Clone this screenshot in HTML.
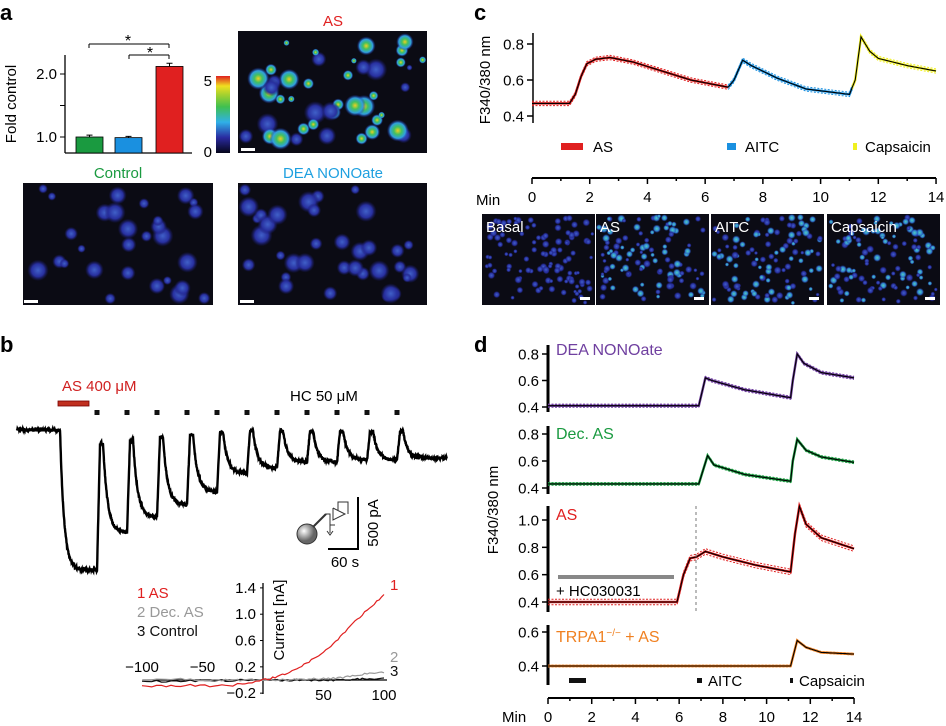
<!DOCTYPE html>
<html><head><meta charset="utf-8"><style>
html,body{margin:0;padding:0;background:#fff;}
svg{display:block;font-family:"Liberation Sans",Arial,sans-serif;}
</style></head><body>
<svg id="fig" width="946" height="726" viewBox="0 0 946 726" xmlns="http://www.w3.org/2000/svg">
<defs>
<linearGradient id="cbar" x1="0" y1="1" x2="0" y2="0">
<stop offset="0" stop-color="#05051a"/><stop offset="0.2" stop-color="#2a2aa0"/><stop offset="0.4" stop-color="#30b0e8"/><stop offset="0.6" stop-color="#40c050"/><stop offset="0.75" stop-color="#a0d030"/><stop offset="0.87" stop-color="#f0e020"/><stop offset="1" stop-color="#e02020"/>
</linearGradient>
<radialGradient id="cellA"><stop offset="0" stop-color="#f0d020"/><stop offset="0.35" stop-color="#40c060"/><stop offset="0.7" stop-color="#30a0e0"/><stop offset="1" stop-color="#2020a0" stop-opacity="0"/></radialGradient>
<radialGradient id="cellB"><stop offset="0" stop-color="#4060c8"/><stop offset="0.6" stop-color="#2830a0"/><stop offset="1" stop-color="#1a1a70" stop-opacity="0"/></radialGradient>
<radialGradient id="cellC"><stop offset="0" stop-color="#50d0c0"/><stop offset="0.6" stop-color="#3080d0"/><stop offset="1" stop-color="#2030a0" stop-opacity="0.2"/></radialGradient>
<radialGradient id="ball" cx="0.35" cy="0.35"><stop offset="0" stop-color="#fff"/><stop offset="1" stop-color="#666"/></radialGradient>
</defs>

<text x="0" y="20" font-size="22" font-weight="bold">a</text>
<text x="0" y="352" font-size="22" font-weight="bold">b</text>
<text x="474" y="20" font-size="22" font-weight="bold">c</text>
<text x="474" y="352" font-size="22" font-weight="bold">d</text>

<g id="pa">
<line x1="65" y1="55" x2="65" y2="153" stroke="#000" stroke-width="1.3"/>
<line x1="65" y1="153" x2="192" y2="153" stroke="#000" stroke-width="1.3"/>
<text transform="translate(16,104) rotate(-90)" text-anchor="middle" font-size="15">Fold control</text>
<line x1="89" y1="44" x2="169" y2="44" stroke="#000"/>
<line x1="89" y1="44" x2="89" y2="48" stroke="#000"/><line x1="169" y1="44" x2="169" y2="48" stroke="#000"/>
<text x="128" y="46" text-anchor="middle" font-size="16">*</text>
<line x1="129" y1="55" x2="169" y2="55" stroke="#000"/>
<line x1="129" y1="55" x2="129" y2="59" stroke="#000"/><line x1="169" y1="55" x2="169" y2="59" stroke="#000"/>
<text x="150" y="58" text-anchor="middle" font-size="16">*</text>
</g>
<rect x="216" y="76" width="14" height="77" fill="url(#cbar)"/>
<text x="212" y="86" text-anchor="end" font-size="15">5</text>
<text x="212" y="157" text-anchor="end" font-size="15">0</text>
<text x="333" y="26" text-anchor="middle" font-size="15" fill="#e02020">AS</text>
<text x="118" y="178" text-anchor="middle" font-size="15" fill="#1a9a40">Control</text>
<text x="333" y="178" text-anchor="middle" font-size="15" fill="#1ea0e0">DEA NONOate</text>
<g id="imgs"></g>

<text x="62" y="391" font-size="15" fill="#d02020">AS 400 μM</text>
<rect x="58" y="401" width="31" height="5" fill="#c03020" stroke="#700" stroke-width="0.8"/>
<text x="290" y="401" font-size="15">HC 50 μM</text>
<g id="pb"></g>
<g>
<polyline points="328,549 358,549 358,497" fill="none" stroke="#000" stroke-width="2"/>
<text transform="translate(378,523) rotate(-90)" text-anchor="middle" font-size="15">500 pA</text>
<text x="345" y="567" text-anchor="middle" font-size="15">60 s</text>
</g>
<g>
<circle cx="307" cy="534" r="10" fill="url(#ball)" stroke="#333"/>
<line x1="313" y1="527" x2="326" y2="514" stroke="#333" stroke-width="2"/>
<polyline points="326,514 330,514 330,525 335,525" fill="none" stroke="#333"/>
<polyline points="333,508 333,520 345,514 333,508" fill="#fff" stroke="#333"/>
<polyline points="338,510 338,502 348,502 348,514" fill="none" stroke="#333"/>
<line x1="330" y1="525" x2="330" y2="533" stroke="#333"/>
<polyline points="327,531 330,535 333,531" fill="none" stroke="#333"/>
</g>
<g id="iv"></g>

<g id="pc"></g>
<text transform="translate(490,80) rotate(-90)" text-anchor="middle" font-size="15">F340/380 nm</text>
<rect x="561" y="143" width="22" height="7" fill="#e02020"/>
<text x="593" y="152" font-size="15">AS</text>
<rect x="727" y="143" width="9" height="7" fill="#1a90e0"/>
<text x="745" y="152" font-size="15">AITC</text>
<rect x="853" y="143" width="4" height="7" fill="#f0f020"/>
<text x="865" y="152" font-size="15">Capsaicin</text>
<text x="476" y="205" font-size="15">Min</text>

<g id="pd"></g>
<text transform="translate(498,510) rotate(-90)" text-anchor="middle" font-size="15">F340/380 nm</text>
<text x="556" y="355" font-size="16" fill="#7040a0">DEA NONOate</text>
<text x="556" y="439" font-size="16" fill="#1a9a40">Dec. AS</text>
<text x="556" y="520" font-size="16" fill="#e02020">AS</text>
<text x="556" y="642" font-size="16" fill="#f08020">TRPA1<tspan dy="-6" font-size="10">−/−</tspan><tspan dy="6"> + AS</tspan></text>
<rect x="558" y="575" width="116" height="4" fill="#888"/>
<text x="556" y="596" font-size="15">+ HC030031</text>
<line x1="696" y1="506" x2="696" y2="612" stroke="#777" stroke-dasharray="3,3"/>
<rect x="569" y="678" width="17" height="5" fill="#111"/>
<rect x="697" y="678" width="5" height="5" fill="#111"/>
<text x="708" y="686" font-size="15">AITC</text>
<rect x="790" y="678" width="3" height="5" fill="#111"/>
<text x="799" y="686" font-size="15">Capsaicin</text>
<text x="502" y="722" font-size="15">Min</text>
</svg>
<script>
const barCats = ['Control','DEA NONOate','AS'];
const barVals = [1.0, 0.99, 2.12];
const barErr = [0.03, 0.02, 0.05];
const barTicks = [1.0, 1.5, 2.0];
const barTickLabels = ['1.0', '', '2.0'];
const pulseTimes = [160,220,280,340,400,460,520,580,640,700,760];
const troughVals = [-1346,-990,-837,-721,-596,-413,-365,-308,-308,-288,-288];
const peakVals = [-125,-96,-67,-48,-19,-10,-10,-10,-10,-10,-10];
const endVal = -269;
const ivV = [-100,-80,-60,-40,-25,-15,0,10,20,30,40,50,60,70,80,90,100];
const ivAS = [-0.1,-0.09,-0.08,-0.09,-0.08,-0.05,0,0.04,0.1,0.2,0.3,0.42,0.58,0.78,0.96,1.12,1.3];
const ivDec = [0,0.01,0.01,0,0,0,0,0,0,0.01,0.02,0.02,0.03,0.05,0.08,0.1,0.11];
const ivCtl = [-0.02,-0.02,-0.01,-0.01,-0.01,0,0,0,0,0,0,0,0,0.01,0.01,0.02,0.03];
const ivXTicks = [-100,-50,50,100];
const ivYTicks = [1.4,1.0,0.6,0.2,-0.2];
const cT = [0,1.3,1.5,1.7,1.9,2.2,2.7,3.5,4.5,5.5,6.8,7.0,7.3,7.6,8.5,9.5,11.0,11.2,11.4,11.7,12,13,14];
const cV = [0.47,0.47,0.52,0.62,0.69,0.715,0.725,0.7,0.65,0.6,0.56,0.6,0.71,0.68,0.61,0.55,0.52,0.6,0.84,0.76,0.72,0.68,0.65];
const cYTicks = [0.4,0.6,0.8];
const timeTicks = [0,2,4,6,8,10,12,14];
const dDeaT = [0,6.9,7.2,7.5,9,11.1,11.2,11.4,11.7,12.5,14];
const dDeaV = [0.41,0.41,0.62,0.6,0.53,0.47,0.6,0.8,0.73,0.66,0.62];
const dDecT = [0,6.9,7.3,7.6,9,11.1,11.2,11.4,11.8,12.5,14];
const dDecV = [0.43,0.43,0.64,0.57,0.5,0.45,0.6,0.76,0.68,0.63,0.59];
const dAsT = [0,5.9,6.2,6.5,6.8,7.2,8,9.5,11.1,11.3,11.5,11.8,12.5,14];
const dAsV = [0.4,0.4,0.6,0.72,0.73,0.77,0.73,0.67,0.62,0.9,1.1,0.97,0.87,0.79];
const dKoT = [0,11.1,11.4,11.8,12.5,14];
const dKoV = [0.4,0.4,0.55,0.51,0.48,0.47];

const NS='http://www.w3.org/2000/svg';
function mk(tag, parent){const e=document.createElementNS(NS,tag);parent.appendChild(e);return e;}
function ptsStr(xs,ys){return xs.map((x,i)=>x.toFixed(1)+','+ys[i].toFixed(1)).join(' ');}

const pa=document.getElementById('pa');
const aY=v=>137-(v-1.0)*63;
const aX=[76,115,156];
const aCol=['#1a9a40','#1a90e0','#e02020'];
barTicks.forEach((t,i)=>{
 const l=mk('line',pa);l.setAttribute('x1',60);l.setAttribute('x2',65);l.setAttribute('y1',aY(t));l.setAttribute('y2',aY(t));l.setAttribute('stroke','#000');
 
 
 if(barTickLabels[i]){const tx=mk('text',pa);tx.setAttribute('x',57);tx.setAttribute('y',aY(t)+5);tx.setAttribute('text-anchor','end');tx.setAttribute('font-size','15');tx.textContent=barTickLabels[i];
 
 }
});
barCats.forEach((c,i)=>{
 const r=mk('rect',pa);r.setAttribute('x',aX[i]);r.setAttribute('width',27);r.setAttribute('y',aY(barVals[i]));r.setAttribute('height',153-aY(barVals[i]));r.setAttribute('fill',aCol[i]);r.setAttribute('stroke','#000');r.setAttribute('stroke-width','0.8');
 
 
 const e=mk('path',pa);const cx=aX[i]+13.5;e.setAttribute('d',`M${cx},${aY(barVals[i])} V${aY(barVals[i]+barErr[i])} M${cx-3},${aY(barVals[i]+barErr[i])} H${cx+3}`);e.setAttribute('stroke','#000');
 
 
});

const imgs=document.getElementById('imgs');
let seed=7;function rnd(){seed=(seed*16807)%2147483647;return seed/2147483647;}
function image(x,y,w,h,n,grad,rmin,rmax,name){
 const g=mk('g',imgs);
 
 
 const r=mk('rect',g);r.setAttribute('x',x);r.setAttribute('y',y);r.setAttribute('width',w);r.setAttribute('height',h);r.setAttribute('fill','#0b0b14');
 for(let i=0;i<n;i++){const c=mk('circle',g);const rr=rmin+rnd()*(rmax-rmin);c.setAttribute('cx',(x+rr+rnd()*(w-2*rr)).toFixed(1));c.setAttribute('cy',(y+rr+rnd()*(h-2*rr)).toFixed(1));c.setAttribute('r',rr.toFixed(1));c.setAttribute('fill','url(#'+(typeof grad==='function'?grad(i):grad)+')');}
 return g;
}
function scaleBar(x,y){const s=mk('rect',imgs);s.setAttribute('x',x);s.setAttribute('y',y);s.setAttribute('width',14);s.setAttribute('height',3);s.setAttribute('fill','#fff');
 
 }
image(238,31,189,122,45,i=>i%3==0?'cellB':'cellA',3,12,'as-heatmap-image');scaleBar(241,148);
image(23,183,190,122,30,'cellB',4,11,'control-heatmap-image');scaleBar(24,300);
image(238,183,189,122,35,'cellB',4,11,'dea-heatmap-image');scaleBar(240,300);
const cLabels=['Basal','AS','AITC','Capsaicin'];
const cXs=[482,596,711,827];
cLabels.forEach((lb,i)=>{
 image(cXs[i],214,113,91,110,i==0?'cellB':(j=>j%2?'cellB':'cellC'),2,4,'calcium-image-'+lb.toLowerCase());
 const t=mk('text',imgs);t.setAttribute('x',cXs[i]+4);t.setAttribute('y',232);t.setAttribute('fill','#fff');t.setAttribute('font-size','15');t.textContent=lb;
 
 
 const s=mk('rect',imgs);s.setAttribute('x',cXs[i]+98);s.setAttribute('y',297);s.setAttribute('width',10);s.setAttribute('height',3);s.setAttribute('fill','#fff');
});

const pb=document.getElementById('pb');
const bX=t=>17+t*0.5, bY=v=>430-v*52/500;
(function(){
 const xs=[],ys=[];
 function add(t,v){const nz=(rnd()-0.5)*30;xs.push(bX(t));ys.push(bY(v+nz));}
 for(let t=0;t<86;t+=0.5)add(t,0);
 for(let t=86;t<=pulseTimes[0];t+=0.5){const f=1-Math.exp(-(t-86)/8);add(t,troughVals[0]*f);}
 for(let i=0;i<pulseTimes.length;i++){
  const t0=pulseTimes[i];const nextT=i+1<pulseTimes.length?pulseTimes[i+1]:860;
  const nextTr=i+1<pulseTimes.length?troughVals[i+1]:endVal;
  for(let t=t0;t<t0+6;t+=0.5){add(t,troughVals[i]+(peakVals[i]-troughVals[i])*(t-t0)/6);}
  for(let t=t0+6;t<t0+12;t+=0.5)add(t,peakVals[i]);
  for(let t=t0+12;t<nextT;t+=0.5){const f=1-Math.exp(-(t-t0-12)/9);add(t,peakVals[i]+(nextTr-peakVals[i])*f);}
  const d=mk('rect',pb);d.setAttribute('x',bX(t0)-2.5);d.setAttribute('y',410);d.setAttribute('width',5);d.setAttribute('height',5);d.setAttribute('fill','#111');
  
  
 }
 const p=mk('polyline',pb);p.setAttribute('points',ptsStr(xs,ys));p.setAttribute('fill','none');p.setAttribute('stroke','#000');p.setAttribute('stroke-width','2.4');
 
 
})();

const iv=document.getElementById('iv');
const ivX=v=>263+v*1.21, ivY=v=>680-v*65.8;
(function(){
 let l=mk('line',iv);l.setAttribute('x1',263);l.setAttribute('x2',263);l.setAttribute('y1',583);l.setAttribute('y2',694);l.setAttribute('stroke','#000');l.setAttribute('stroke-width','1.3');
 
 
 l=mk('line',iv);l.setAttribute('x1',143);l.setAttribute('x2',387);l.setAttribute('y1',680);l.setAttribute('y2',680);l.setAttribute('stroke','#000');l.setAttribute('stroke-width','1.3');
 
 
 ivYTicks.forEach(v=>{const tk=mk('line',iv);tk.setAttribute('x1',260);tk.setAttribute('x2',263);tk.setAttribute('y1',ivY(v));tk.setAttribute('y2',ivY(v));tk.setAttribute('stroke','#000');
  const t=mk('text',iv);t.setAttribute('x',256);t.setAttribute('y',ivY(v)+5);t.setAttribute('text-anchor','end');t.setAttribute('font-size','15');t.textContent=v<0?'−'+Math.abs(v).toFixed(1):v.toFixed(1);
  
  });
 ivXTicks.forEach(v=>{const t=mk('text',iv);t.setAttribute('x',ivX(v));t.setAttribute('y',v<0?672:700);t.setAttribute('text-anchor','middle');t.setAttribute('font-size','15');t.textContent=v<0?'−'+Math.abs(v):v;
  
  });
 const tt=mk('text',iv);tt.setAttribute('transform','translate(284,620) rotate(-90)');tt.setAttribute('text-anchor','middle');tt.setAttribute('font-size','15');tt.textContent='Current [nA]';
 
 
 const series=[[ivCtl,'#111','3 Control','3',676],[ivDec,'#999','2 Dec. AS','2',662],[ivAS,'#e02020','1 AS','1',590]];
 series.forEach((s,k)=>{
  const xs=[],ys=[];
  for(let i=0;i<ivV.length-1;i++){for(let j=0;j<5;j++){const v=ivV[i]+(ivV[i+1]-ivV[i])*j/5;const c=s[0][i]+(s[0][i+1]-s[0][i])*j/5;xs.push(ivX(v));ys.push(ivY(c)+(rnd()-0.5)*2);}}
  xs.push(ivX(ivV[ivV.length-1]));ys.push(ivY(s[0][s[0].length-1]));
  const p=mk('polyline',iv);p.setAttribute('points',ptsStr(xs,ys));p.setAttribute('fill','none');p.setAttribute('stroke',s[1]);p.setAttribute('stroke-width','1.2');
  
  
  const lg=mk('text',iv);lg.setAttribute('x',137);lg.setAttribute('y',[636,617,598][k]);lg.setAttribute('font-size','15');lg.setAttribute('fill',s[1]);lg.textContent=s[2];
  
  
  const en=mk('text',iv);en.setAttribute('x',390);en.setAttribute('y',s[4]);en.setAttribute('font-size','15');en.setAttribute('fill',s[1]);en.textContent=s[3];
  
  
 });
})();

function sample(T,V,t0,t1,step){const xs=[],vs=[];for(let t=t0;t<=t1+1e-9;t+=step){let i=0;while(i<T.length-2&&T[i+1]<t)i++;const f=Math.max(0,Math.min(1,(t-T[i])/(T[i+1]-T[i])));xs.push(t);vs.push(V[i]+(V[i+1]-V[i])*f);}return [xs,vs];}
function drawTrace(g,T,V,xf,yf,segs,sem,name){
 segs.forEach(sg=>{
  const [ts,vs]=sample(T,V,sg[0],sg[1],0.05);
  [sem,-sem].forEach(o=>{const p=mk('polyline',g);p.setAttribute('points',ptsStr(ts.map(xf),vs.map(v=>yf(v+o))));p.setAttribute('fill','none');p.setAttribute('stroke',sg[2]);p.setAttribute('stroke-width','1');p.setAttribute('stroke-dasharray','2,1.5');
   
   });
  const p2=mk('polyline',g);p2.setAttribute('points',ptsStr(ts.map(xf),vs.map(yf)));p2.setAttribute('fill','none');p2.setAttribute('stroke',sg[2]);p2.setAttribute('stroke-width','2.5');
  
  
 });
 const [ts,vs]=sample(T,V,T[0],T[T.length-1],0.05);
 const p=mk('polyline',g);p.setAttribute('points',ptsStr(ts.map(xf),vs.map(yf)));p.setAttribute('fill','none');p.setAttribute('stroke','#000');p.setAttribute('stroke-width','1.1');
 
 
}
function yAxis(g,x,y1,y2,ticks,yf,w,name){
 const l=mk('line',g);l.setAttribute('x1',x);l.setAttribute('x2',x);l.setAttribute('y1',y1);l.setAttribute('y2',y2);l.setAttribute('stroke','#000');l.setAttribute('stroke-width',w);
 
 
 ticks.forEach(v=>{const tk=mk('line',g);tk.setAttribute('x1',x-6);tk.setAttribute('x2',x);tk.setAttribute('y1',yf(v));tk.setAttribute('y2',yf(v));tk.setAttribute('stroke','#000');tk.setAttribute('stroke-width','1.5');
  const t=mk('text',g);t.setAttribute('x',x-9);t.setAttribute('y',yf(v)+5.5);t.setAttribute('text-anchor','end');t.setAttribute('font-size','15');t.textContent=v.toFixed(1);
  
  });
}
function xAxis(g,x0,x1,y,xf){
 const l=mk('line',g);l.setAttribute('x1',x0);l.setAttribute('x2',x1);l.setAttribute('y1',y);l.setAttribute('y2',y);l.setAttribute('stroke','#000');l.setAttribute('stroke-width','2');
 
 
 for(let m=0;m<=14;m++){const tk=mk('line',g);tk.setAttribute('x1',xf(m));tk.setAttribute('x2',xf(m));tk.setAttribute('y1',y);tk.setAttribute('y2',y+(m%2?3:6));tk.setAttribute('stroke','#000');tk.setAttribute('stroke-width','1.5');}
 timeTicks.forEach(m=>{const t=mk('text',g);t.setAttribute('x',xf(m));t.setAttribute('y',y+24);t.setAttribute('text-anchor','middle');t.setAttribute('font-size','15');t.textContent=m;
  
  });
}

const pc=document.getElementById('pc');
const cX=t=>532+t*28.86, cY=v=>116-(v-0.4)*180;
yAxis(pc,533,33,123,cYTicks,cY,1.5,'y-axis-c');
drawTrace(pc,cT,cV,cX,cY,[[0,6.8,'#e02020'],[6.8,11.1,'#1a90e0'],[11.1,14,'#f0f020']],0.012,'trace-c');
xAxis(pc,532,936,178,cX);

const pd=document.getElementById('pd');
const dX=t=>548+t*21.86;
const y1=v=>407-(v-0.4)*(53/0.4), y2=v=>488-(v-0.4)*(54/0.4), y3=v=>602-(v-0.4)*(82/0.6), y4=v=>666-(v-0.4)*(34/0.2);
yAxis(pd,548,345,412,[0.4,0.6,0.8],y1,3,'y-axis-dea');
yAxis(pd,548,426,494,[0.4,0.6,0.8],y2,3,'y-axis-dec-as');
yAxis(pd,548,506,612,[0.4,0.6,0.8,1.0],y3,3,'y-axis-as');
yAxis(pd,548,625,685,[0.4,0.6],y4,3,'y-axis-trpa1');
drawTrace(pd,dDeaT,dDeaV,dX,y1,[[0,14,'#7040a0']],0.012,'trace-dea');
drawTrace(pd,dDecT,dDecV,dX,y2,[[0,14,'#1a9a40']],0.01,'trace-dec-as');
drawTrace(pd,dAsT,dAsV,dX,y3,[[0,14,'#e02020']],0.02,'trace-as');
drawTrace(pd,dKoT,dKoV,dX,y4,[[0,14,'#f08020']],0.005,'trace-trpa1');
xAxis(pd,548,854,698,dX);
</script>
</body></html>
